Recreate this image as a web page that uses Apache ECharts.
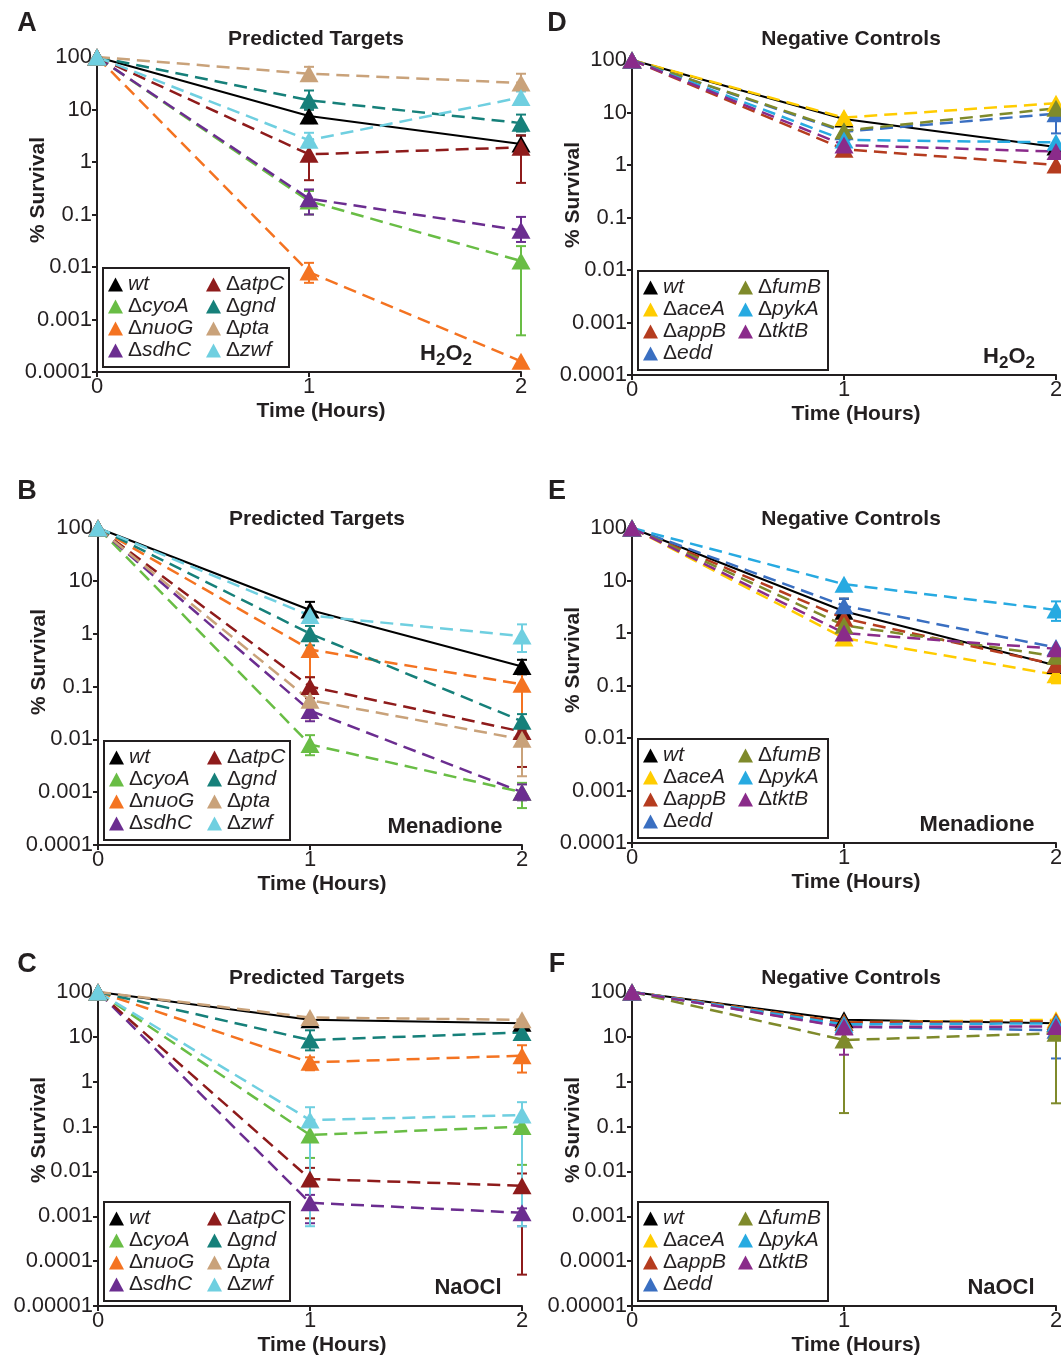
<!DOCTYPE html>
<html>
<head>
<meta charset="utf-8">
<script src="https://cdn.jsdelivr.net/npm/echarts@6/dist/echarts.min.js"></script>
<style>
  html, body { margin: 0; background: #fff; }
  #chart { width: 1061px; height: 1357px; }
</style>
</head>
<body>
<div id="chart"></div>
<script>
// time points (hours)
var hours = [0, 1, 2];
var tickLabels = {'-5': '0.00001', '-4': '0.0001', '-3': '0.001', '-2': '0.01', '-1': '0.1', '0': '1', '1': '10', '2': '100'};

// strains
var targetStrains = ['wt', 'ΔcyoA', 'ΔnuoG', 'ΔsdhC', 'ΔatpC', 'Δgnd', 'Δpta', 'Δzwf'];
var controlStrains = ['wt', 'ΔaceA', 'ΔappB', 'Δedd', 'ΔfumB', 'ΔpykA', 'ΔtktB'];
var strainColors = {
  'wt': '#000000', 'ΔcyoA': '#69bd45', 'ΔnuoG': '#f47321', 'ΔsdhC': '#6b2d90',
  'ΔatpC': '#8e1b1b', 'Δgnd': '#16807a', 'Δpta': '#c9a27a', 'Δzwf': '#6fcfe0',
  'ΔaceA': '#ffcc00', 'ΔappB': '#b53c1f', 'Δedd': '#3a6fc1', 'ΔfumB': '#7f8a2b',
  'ΔpykA': '#27aae1', 'ΔtktB': '#8a2b8a'
};

// % survival at 0, 1, 2 h  (same order as strain lists)
var h2o2Targets = [[100, 7.5, 2.2], [100, 0.18, 0.013], [100, 0.008, 0.00016], [100, 0.2, 0.05],
                   [100, 1.4, 1.9], [100, 15, 5.5], [100, 48, 32], [100, 2.6, 17]];
var menTargets  = [[100, 2.8, 0.24], [100, 0.008, 0.001], [100, 0.5, 0.11], [100, 0.035, 0.001],
                   [100, 0.1, 0.014], [100, 1.0, 0.022], [100, 0.055, 0.01], [100, 2.2, 0.9]];
var naoclTargets = [[100, 24, 20], [100, 0.065, 0.1], [100, 2.7, 3.8], [100, 0.002, 0.0012],
                    [100, 0.0068, 0.0048], [100, 8.5, 12.5], [100, 27, 24], [100, 0.14, 0.18]];
var h2o2Controls = [[100, 7.5, 2.2], [100, 8, 15], [100, 2.0, 1.0], [100, 4.3, 9.5],
                    [100, 4.5, 12], [100, 3.0, 2.7], [100, 2.4, 1.8]];
var menControls  = [[100, 2.6, 0.24], [100, 0.8, 0.16], [100, 1.9, 0.25], [100, 3.3, 0.53],
                    [100, 1.4, 0.36], [100, 8.5, 2.75], [100, 1.0, 0.5]];
var naoclControls = [[100, 24, 20], [100, 21, 24], [100, 21, 22], [100, 17, 14],
                     [100, 8.5, 12], [100, 19, 20], [100, 16.6, 17]];

// error bars [low, high] at 1 h and 2 h (null = not visible)
var h2o2TargetsErr = [[[5.5, 10], [1.6, 3.2]], [[0.1, 0.28], [0.0005, 0.025]], [[0.005, 0.012], null],
                      [[0.1, 0.3], [0.03, 0.09]], [[0.45, 2.0], [0.4, 3.2]], [[10, 23], [3.8, 8]],
                      [[35, 65], [25, 48]], [[2.0, 3.6], [13, 22]]];
var menTargetsErr = [[[2, 4], [0.17, 0.32]], [[0.005, 0.012], [0.0005, 0.0015]], [[0.15, 0.75], [0.02, 0.2]],
                     [[0.022, 0.05], [0.0007, 0.0014]], [[0.06, 0.15], [0.003, 0.018]], [[0.6, 1.4], [0.015, 0.03]],
                     [[0.025, 0.08], [0.002, 0.015]], [[1.8, 2.8], [0.45, 1.5]]];
var naoclTargetsErr = [[null, null], [[0.02, 0.12], [0.014, 0.15]], [[1.8, 3.5], [1.6, 6.5]],
                       [[0.0007, 0.003], [0.0006, 0.0015]], [[0.0009, 0.012], [0.00005, 0.009]], [[5, 14], [9, 16]],
                       [null, null], [[0.0006, 0.27], [0.0006, 0.35]]];
var h2o2ControlsErr = [[null, null], [null, null], [null, null], [null, [4, 10]], [null, null], [null, null], [null, null]];
var menControlsErr = [[[2, 4.5], null], [[0.6, 1.0], [0.11, 0.22]], [null, null], [[2.5, 4.5], null],
                      [null, null], [null, [1.7, 4]], [null, null]];
var naoclControlsErr = [[null, null], [null, null], [null, null], [null, [3.3, 14]], [[0.2, 9], [0.33, 11]],
                        [null, null], [[4, 17], null]];

var FONT = '"Liberation Sans", Arial, sans-serif';

var panels = [
  {letter: 'A', title: 'Predicted Targets', stress: 'H2O2', strains: targetStrains, values: h2o2Targets, errs: h2o2TargetsErr,
   left: 97, top: 57, bottom: 372, minExp: -4, stressX: 446, yName: 190, titleTop: 29, letterY: 24},
  {letter: 'B', title: 'Predicted Targets', stress: 'Menadione', strains: targetStrains, values: menTargets, errs: menTargetsErr,
   left: 98, top: 528, bottom: 845, minExp: -4, stressX: 445, yName: 662, titleTop: 509, letterY: 492},
  {letter: 'C', title: 'Predicted Targets', stress: 'NaOCl', strains: targetStrains, values: naoclTargets, errs: naoclTargetsErr,
   left: 98, top: 992, bottom: 1306, minExp: -5, stressX: 468, yName: 1130, titleTop: 968, letterY: 965},
  {letter: 'D', title: 'Negative Controls', stress: 'H2O2', strains: controlStrains, values: h2o2Controls, errs: h2o2ControlsErr,
   left: 632, top: 60, bottom: 375, minExp: -4, stressX: 1009, yName: 195, titleTop: 29, letterY: 24},
  {letter: 'E', title: 'Negative Controls', stress: 'Menadione', strains: controlStrains, values: menControls, errs: menControlsErr,
   left: 632, top: 528, bottom: 843, minExp: -4, stressX: 977, yName: 660, titleTop: 509, letterY: 492},
  {letter: 'F', title: 'Negative Controls', stress: 'NaOCl', strains: controlStrains, values: naoclControls, errs: naoclControlsErr,
   left: 632, top: 992, bottom: 1306, minExp: -5, stressX: 1001, yName: 1130, titleTop: 968, letterY: 965}
];

var grids = [], xAxes = [], yAxes = [], series = [], legends = [], titles = [], graphics = [];

function legendFormatter(name) {
  return name.charAt(0) === 'Δ' ? '{d|Δ}{i|' + name.slice(1) + '}' : '{i|' + name + '}';
}

function errRender(color) {
  return function (params, api) {
    var lo = api.coord([api.value(0), api.value(1)]);
    var hi = api.coord([api.value(0), api.value(2)]);
    var st = {stroke: color, lineWidth: 2};
    return {
      type: 'group',
      children: [
        {type: 'line', shape: {x1: lo[0], y1: lo[1], x2: hi[0], y2: hi[1]}, style: st},
        {type: 'line', shape: {x1: lo[0] - 5, y1: lo[1], x2: lo[0] + 5, y2: lo[1]}, style: st},
        {type: 'line', shape: {x1: hi[0] - 5, y1: hi[1], x2: hi[0] + 5, y2: hi[1]}, style: st}
      ]
    };
  };
}

panels.forEach(function (p, i) {
  var width = 424;
  var height = p.bottom - p.top;
  var centerX = p.left + width / 2;
  grids.push({left: p.left, top: p.top, width: width, height: height, outerBoundsMode: 'none', containLabel: false});

  xAxes.push({
    type: 'value', gridIndex: i, min: 0, max: 2, interval: 1,
    name: 'Time (Hours)', nameLocation: 'middle', nameGap: 29, nameMoveOverlap: false,
    nameTextStyle: {fontFamily: FONT, fontWeight: 'bold', fontSize: 21, color: '#231f20', padding: [0, 0, 0, 24]},
    axisLine: {lineStyle: {color: '#231f20', width: 2}},
    axisTick: {length: 5, lineStyle: {color: '#231f20', width: 2}},
    axisLabel: {fontFamily: FONT, fontSize: 22, color: '#231f20', margin: 4},
    splitLine: {show: false}
  });

  var yMid = (p.top + p.bottom) / 2;
  var shift = (yMid - p.yName) * 2;
  yAxes.push({
    type: 'log', logBase: 10, gridIndex: i, min: Math.pow(10, p.minExp), max: 100, interval: 1,
    name: '% Survival', nameLocation: 'middle', nameGap: 48, nameRotate: 90, nameMoveOverlap: false,
    nameTextStyle: {fontFamily: FONT, fontWeight: 'bold', fontSize: 21, color: '#231f20', padding: [0, 0, 0, shift]},
    axisLine: {show: true, lineStyle: {color: '#231f20', width: 2}},
    axisTick: {show: true, length: 5, lineStyle: {color: '#231f20', width: 2}},
    minorTick: {show: false},
    axisLabel: {
      fontFamily: FONT, fontSize: 22, color: '#231f20', margin: 5,
      formatter: function (v) { return tickLabels[String(Math.round(Math.log10(v)))]; }
    },
    splitLine: {show: false}
  });

  // error bars first, then the lines with triangle markers
  p.strains.forEach(function (name, k) {
    var color = strainColors[name];
    var errData = [];
    p.errs[k].forEach(function (e, j) {
      if (e) errData.push([hours[j + 1], e[0], e[1]]);
    });
    if (errData.length) {
      series.push({
        type: 'custom', name: name + ' error', xAxisIndex: i, yAxisIndex: i, z: 2, silent: true,
        renderItem: errRender(color), data: errData, animation: false
      });
    }
  });
  p.strains.forEach(function (name, k) {
    var color = strainColors[name];
    series.push({
      type: 'line', name: name, xAxisIndex: i, yAxisIndex: i, z: 3,
      data: p.values[k].map(function (v, j) { return [hours[j], v]; }),
      symbol: 'triangle', symbolSize: [19, 17], showAllSymbol: true,
      lineStyle: {color: color, width: name === 'wt' ? 2 : 2.5, type: name === 'wt' ? 'solid' : [13, 7]},
      itemStyle: {color: color},
      emphasis: {disabled: true},
      animation: false
    });
  });

  // legend: two columns inside a framed box
  var boxLeft = p.left + 6;
  var boxBottom = p.bottom - 5;
  var boxTop = boxBottom - 99;
  var boxW = i < 3 ? 186 : 190;
  var half = 4;
  var cols = [p.strains.slice(0, half), p.strains.slice(half)];
  cols.forEach(function (col, c) {
    legends.push({
      data: col, orient: 'vertical', icon: 'triangle', selectedMode: false,
      left: boxLeft + (c === 0 ? 5 : (i < 3 ? 103 : 100)), top: boxTop + 6,
      padding: 0, itemGap: 1, itemWidth: 15, itemHeight: 14,
      formatter: legendFormatter,
      textStyle: {
        fontSize: 21, color: '#231f20', fontFamily: FONT,
        rich: {
          d: {fontSize: 21, fontFamily: FONT, fontStyle: 'normal', color: '#231f20', lineHeight: 22},
          i: {fontSize: 21, fontFamily: FONT, fontStyle: 'italic', color: '#231f20', lineHeight: 22}
        }
      }
    });
  });
  graphics.push({
    type: 'rect', shape: {x: boxLeft, y: boxTop, width: boxW, height: 99},
    style: {fill: null, stroke: '#231f20', lineWidth: 2}, z: 10, silent: true
  });

  titles.push({
    text: p.title, left: centerX + 7, top: p.titleTop, textAlign: 'center', padding: 0,
    textStyle: {fontFamily: FONT, fontWeight: 'bold', fontSize: 21, color: '#231f20'}
  });

  // panel letter
  graphics.push({
    type: 'text', x: p.left < 300 ? 27 : 557, y: p.letterY,
    style: {text: p.letter, font: 'bold 27px ' + FONT, fill: '#231f20', align: 'center', verticalAlign: 'middle'}
  });

  // stress label
  var stressText = p.stress === 'H2O2' ? '{b|H}{s|2}{b|O}{s|2}' : '{b|' + p.stress + '}';
  graphics.push({
    type: 'text', x: p.stressX, y: p.bottom - 18,
    style: {
      text: stressText, align: 'center', verticalAlign: 'middle', fill: '#231f20',
      rich: {
        b: {fontFamily: FONT, fontWeight: 'bold', fontSize: 22, fill: '#231f20', lineHeight: 26},
        s: {fontFamily: FONT, fontWeight: 'bold', fontSize: 17, fill: '#231f20', padding: [12, 0, 0, 0]}
      }
    }
  });
});

var myChart = echarts.init(document.getElementById('chart'), null, {renderer: 'canvas'});
myChart.setOption({
  backgroundColor: '#ffffff',
  animation: false,
  title: titles,
  grid: grids,
  xAxis: xAxes,
  yAxis: yAxes,
  legend: legends,
  series: series,
  graphic: graphics
});
</script>
</body>
</html>
